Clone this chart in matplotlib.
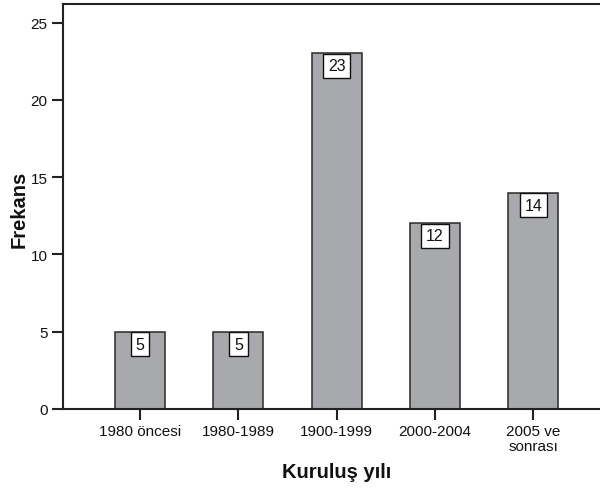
import matplotlib
matplotlib.use("Agg")
import matplotlib.pyplot as plt

categories = ["1980 öncesi", "1980-1989", "1900-1999", "2000-2004", "2005 ve\nsonrası"]
values = [5, 5, 23, 12, 14]
yticks = [0, 5, 10, 15, 20, 25]

plt.rcParams['font.family'] = ['Liberation Sans', 'DejaVu Sans']

fig = plt.figure(figsize=(6.0, 4.89), dpi=100)
ax = fig.add_axes([63/600, (489-410)/489, 1 - 63/600, (410-4.5)/489])

x = list(range(len(categories)))
ax.bar(x, values, width=0.51, color='#a8a9ad', edgecolor='#2a2a2a', linewidth=1.1, zorder=2)

for xi, v in zip(x, values):
    ax.annotate(str(v), xy=(xi, v), xytext=(0, -3.6), textcoords='offset points',
                ha='center', va='top', fontsize=11.5, color='#111111', zorder=3,
                bbox=dict(boxstyle='square,pad=0.3', fc='white', ec='#111111', lw=1.0))

ax.set_xlim(-0.783, 4.678)
ax.set_ylim(0, 26.23)
ax.set_xticks(x)
ax.set_xticklabels(categories, fontsize=11, color='#111111', linespacing=1.05)
ax.set_yticks(yticks)
ax.set_yticklabels([str(t) for t in yticks], fontsize=11, color='#111111')
ax.tick_params(axis='both', direction='out', length=8, width=1.5, color='#222222', pad=3)

for s in ['left', 'bottom', 'top']:
    ax.spines[s].set_linewidth(1.5)
    ax.spines[s].set_color('#222222')
ax.spines['right'].set_visible(False)

fig.text(19/600, 1 - 209/489, 'Frekans', rotation=90, ha='center', va='center',
         fontsize=14.5, fontweight='bold', color='#111111')
fig.text(337/600, 1 - 473/489, 'Kuruluş yılı', ha='center', va='center',
         fontsize=14.5, fontweight='bold', color='#111111')

fig.savefig('out.png', dpi=100)
